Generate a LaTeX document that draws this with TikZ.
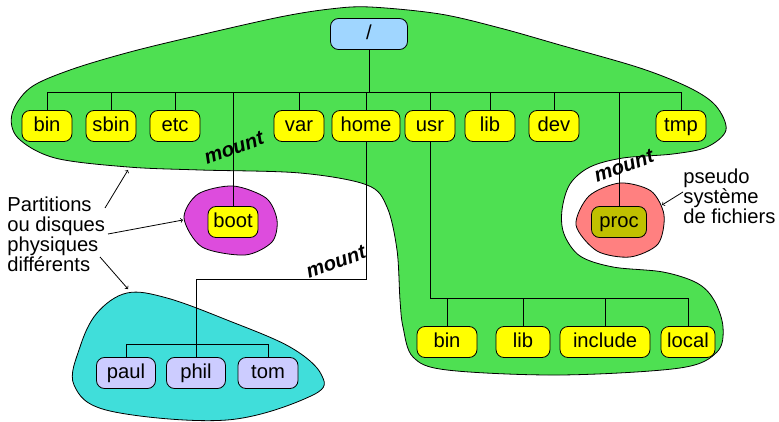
\documentclass[tikz,border=0pt]{standalone}
\usepackage{fontspec}
\setmainfont{Liberation Sans}
\usetikzlibrary{positioning}

\definecolor{fsgreen}{RGB}{78,224,82}
\definecolor{fsyellow}{RGB}{255,255,0}
\definecolor{rootblue}{RGB}{160,214,255}
\definecolor{bootmagenta}{RGB}{221,76,221}
\definecolor{procpink}{RGB}{255,128,128}
\definecolor{homecyan}{RGB}{64,222,218}
\definecolor{userlav}{RGB}{204,204,255}
\definecolor{procolive}{RGB}{192,192,0}
\newcommand{\dirfont}{\fontsize{20.2}{20.3}\selectfont}

\begin{document}
\begin{tikzpicture}[x=1pt, y=-1pt, node distance=64pt, line width=0.8pt, font=\dirfont,
  dir/.style={shape=rectangle, rounded corners=8pt, draw, fill=fsyellow,
    minimum width=50pt, minimum height=31pt, inner xsep=4pt,
    text height=14.5pt, text depth=4pt},
  blob/.style={draw},
  mountlbl/.style={font=\dirfont\bfseries\itshape, rotate=20, inner sep=1pt}]
\useasboundingbox (0,0) rectangle (779,422);

% partitions
\filldraw[blob, fill=fsgreen] plot[smooth cycle, tension=0.55] coordinates {
  (370,7) (440,14) (500,28) (560,45) (640,68) (690,88) (716,106) (726,130)
  (707,147) (673,154) (623,158) (590,167) (570,184) (562,210) (564,234)
  (580,256) (613,267) (663,272) (697,283) (714,300) (723,327) (717,352)
  (680,368) (560,375) (447,370) (413,357) (403,327) (400,300) (397,250)
  (387,207) (367,185) (300,173) (200,170) (128,167) (55,158) (18,138)
  (12,114) (30,88) (70,70) (130,52) (200,35) (280,17) (330,9)};
\filldraw[blob, fill=bootmagenta] plot[smooth cycle] coordinates {
  (233,186) (266,198) (277,220) (272,242) (245,255) (202,247) (184,218) (198,194)};
\filldraw[blob, fill=procpink] plot[smooth cycle] coordinates {
  (620,183) (651,191) (664,215) (658,244) (630,257) (597,251) (576,225) (589,196)};
\filldraw[blob, fill=homecyan] plot[smooth cycle, tension=0.6] coordinates {
  (127,293) (167,298) (227,320) (290,347) (321,374) (313,395) (227,420)
  (110,411) (74,385) (80,347) (97,313)};

% directories
\node [dir, fill=rootblue, minimum width=77pt] (root) at (369,34) {/};
\node [dir] (bin) at (47,126) {bin};
\node [dir, right of=bin] (sbin) {sbin};
\node [dir, right of=sbin] (etc) {etc};
\node [dir] (var) at (299,126) {var};
\node [dir, minimum width=68pt] (home) at (366,126) {home};
\node [dir, right of=home] (usr) {usr};
\node [dir, right of=usr, xshift=-4pt] (lib) {lib};
\node [dir, right of=lib] (dev) {dev};
\node [dir] (tmp) at (681,126) {tmp};
\node [dir] (boot) at (233,222) {boot};
\node [dir, fill=procolive, minimum width=55pt] (proc) at (619,222) {proc};
\node [dir, minimum width=60pt] (ubin) at (447,342) {bin};
\node [dir, minimum width=54pt] (ulib) at (523,342) {lib};
\node [dir, minimum width=90pt] (include) at (605,342) {include};
\node [dir, minimum width=54pt] (local) at (688,342) {local};
\node [dir, fill=userlav, minimum width=59pt] (paul) at (126,373) {paul};
\node [dir, fill=userlav, minimum width=59pt] (phil) at (196,373) {phil};
\node [dir, fill=userlav, minimum width=60pt] (tom) at (268,373) {tom};

% tree
\coordinate (topbus) at (0,92);
\coordinate (usrbus) at (0,298);
\coordinate (homebus) at (0,344);
\draw (root.south) -- (root.south |- topbus);
\draw (bin.north |- topbus) -- (tmp.north |- topbus);
\foreach \d in {bin,sbin,etc,var,home,usr,lib,dev,tmp,boot,proc}
  \draw (\d.north) -- (\d.north |- topbus);
\draw (usr.south) -- (usr.south |- usrbus) -- (local.north |- usrbus);
\foreach \d in {ubin,ulib,include,local}
  \draw (\d.north) -- (\d.north |- usrbus);
\draw (home.south) -- ++(0,137) -| (phil.north);
\draw (paul.north) -- (paul.north |- homebus) -- (tom.north |- homebus) -- (tom.north);

% labels
\node [mountlbl] (mboot) at (234,148) {mount};
\node [mountlbl] (mproc) at (624,166) {mount};
\node [mountlbl] (mhome) at (336,262) {mount};
\node [anchor=north west, align=left, inner sep=0pt] (parts) at (7,196)
  {Partitions\\ou disques\\physiques\\différents};
\node [anchor=north west, align=left, inner sep=0pt] (pseudo) at (683,168)
  {pseudo\\système\\de fichiers};

\coordinate (p1) at (105,208);
\coordinate (p2) at (108,234);
\coordinate (p3) at (100,257);
\coordinate (p4) at (683,192);
\coordinate (greenedge) at (128,170);
\coordinate (bootedge) at (183,220);
\coordinate (cyanedge) at (128,289);
\coordinate (procedge) at (662,205);
\draw[->] (p1) -- (greenedge);
\draw[->] (p2) -- (bootedge);
\draw[->] (p3) -- (cyanedge);
\draw[->] (p4) -- (procedge);
\end{tikzpicture}
\end{document}
